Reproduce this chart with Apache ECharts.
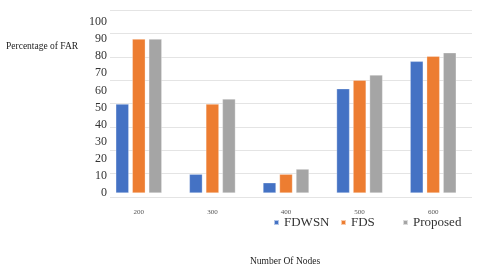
<!DOCTYPE html>
<html><head><meta charset="utf-8">
<script src="https://cdn.jsdelivr.net/npm/echarts@6/dist/echarts.min.js"></script>
<style>html,body{margin:0;padding:0;background:#fff}#c{width:480px;height:269px}</style>
</head><body><div id="c"></div>
<script>
const categories = ['200', '300', '400', '500', '600'];
const fdwsn = [52, 11, 6, 61, 77];
const fds = [90, 52, 11, 66, 80];
const proposed = [90, 55, 14, 69, 82];
const seriesNames = ['FDWSN', 'FDS', 'Proposed'];
const colors = ['#4472C4', '#ED7D31', '#A5A5A5'];
const serif = 'Liberation Serif';

const chart = echarts.init(document.getElementById('c'));
const mk = (name, data, color) => ({
  name, type: 'bar', data, xAxisIndex: 0, yAxisIndex: 0,
  barWidth: 13, barGap: '27%',
  itemStyle: { color, borderColor: 'rgba(255,255,255,0.6)', borderWidth: 0.5 }
});
const legendLeft = [273, 340, 402];
chart.setOption({
  animation: false,
  textStyle: { fontFamily: serif },
  title: [
    { text: 'Percentage of FAR', left: 6, top: 41, padding: 0, textStyle: { fontFamily: serif, fontSize: 9.5, fontWeight: 'normal', color: '#222' } },
    { text: 'Number Of Nodes', left: 250, top: 256, padding: 0, textStyle: { fontFamily: serif, fontSize: 9.5, fontWeight: 'normal', color: '#222' } }
  ],
  legend: seriesNames.map((n, i) => ({
    data: [n], left: legendLeft[i], top: 216, padding: 0,
    itemWidth: 5, itemHeight: 5, icon: 'rect',
    textStyle: { fontFamily: serif, fontSize: 13, color: '#333' }
  })),
  grid: [
    { left: 102, right: 10, top: 22, bottom: 76 },
    { left: 110, right: 8, top: 10, bottom: 72 }
  ],
  xAxis: [
    { type: 'category', data: categories, gridIndex: 0,
      axisLine: { show: false }, axisTick: { show: false },
      axisLabel: { fontFamily: serif, fontSize: 7, color: '#555', margin: 16 } },
    { type: 'category', data: categories, gridIndex: 1, show: false }
  ],
  yAxis: [
    { type: 'value', gridIndex: 0, min: 0, max: 100, interval: 10,
      splitLine: { show: false }, axisLine: { show: false }, axisTick: { show: false },
      axisLabel: { fontFamily: serif, fontSize: 12, color: '#333', margin: -5 } },
    { type: 'value', gridIndex: 1, min: 0, max: 8, interval: 1,
      axisLabel: { show: false }, axisLine: { show: false }, axisTick: { show: false },
      splitLine: { lineStyle: { color: '#e4e4e4', width: 1 } } }
  ],
  series: [
    mk(seriesNames[0], fdwsn, colors[0]),
    mk(seriesNames[1], fds, colors[1]),
    mk(seriesNames[2], proposed, colors[2])
  ]
});
</script></body></html>
